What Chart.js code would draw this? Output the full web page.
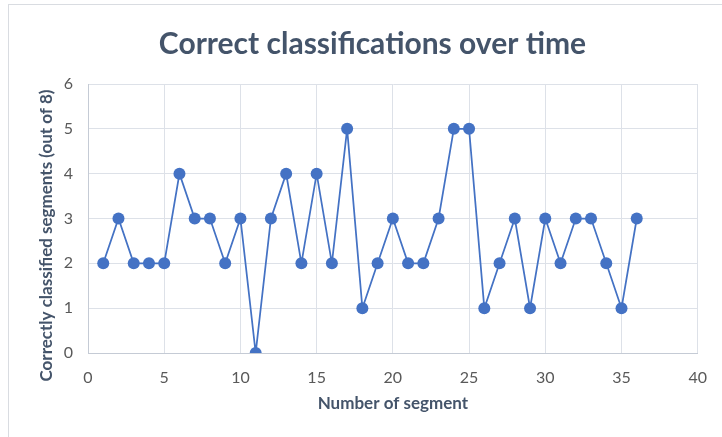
<!DOCTYPE html>
<html>
<head>
<meta charset="utf-8">
<script src="https://cdn.jsdelivr.net/npm/chart.js@4/dist/chart.umd.min.js"></script>
<style>
  html, body { margin: 0; padding: 0; background: #ffffff; }
  #wrap { position: relative; width: 722px; height: 437px; overflow: hidden; }
  #frame { position: absolute; left: 8px; top: 4px; width: 720px; height: 440px;
           border: 1px solid #D9DCE1; box-sizing: border-box; }
  #c { position: absolute; left: 0; top: 0; }
</style>
</head>
<body>
<div id="wrap">
  <div id="frame"></div>
  <canvas id="c" width="722" height="437"></canvas>
</div>
<script>
// Segment index and how many of its 8 parts were classified correctly
const segments = [1, 2, 3, 4, 5, 6, 7, 8, 9, 10, 11, 12, 13, 14, 15, 16, 17, 18,
                  19, 20, 21, 22, 23, 24, 25, 26, 27, 28, 29, 30, 31, 32, 33, 34, 35, 36];
const correct  = [2, 3, 2, 2, 2, 4, 3, 3, 2, 3, 0, 3, 4, 2, 4, 2, 5, 1,
                  2, 3, 2, 2, 3, 5, 5, 1, 2, 3, 1, 3, 2, 3, 3, 2, 1, 3];

const xTicks = [0, 5, 10, 15, 20, 25, 30, 35, 40];
const yTicks = [0, 1, 2, 3, 4, 5, 6];

const titleText = 'Correct classifications over time';
const xTitle = 'Number of segment';
const yTitle = 'Correctly classified segments (out of 8)';

const points = segments.map((s, i) => ({ x: s, y: correct[i] }));

const gridColor = '#DDE1E8';
const axisColor = '#C5CBD5';
const tickColor = '#595959';
const titleColor = '#44546A';
const seriesColor = '#4472C4';
const fontFamily = 'Lato, "Open Sans", sans-serif';

// Vertical axis title, set a little below the middle of the value axis
const yTitlePlugin = {
  id: 'yTitle',
  afterDraw(chart) {
    const { ctx, chartArea } = chart;
    ctx.save();
    ctx.translate(chartArea.left - 41, (chartArea.top + chartArea.bottom) / 2 + 17);
    ctx.rotate(-Math.PI / 2);
    ctx.fillStyle = titleColor;
    ctx.font = 'bold 17px ' + fontFamily;
    ctx.textAlign = 'center';
    ctx.textBaseline = 'middle';
    ctx.fillText(yTitle, 0, 0);
    ctx.restore();
  }
};

new Chart(document.getElementById('c'), {
  type: 'scatter',
  data: {
    datasets: [{
      data: points,
      showLine: true,
      borderColor: seriesColor,
      borderWidth: 1.75,
      pointRadius: 6,
      pointHoverRadius: 6,
      pointBackgroundColor: seriesColor,
      pointBorderColor: seriesColor,
      pointBorderWidth: 0,
      tension: 0
    }]
  },
  plugins: [yTitlePlugin],
  options: {
    responsive: false,
    devicePixelRatio: 1,
    animation: false,
    layout: { padding: { left: 43, right: 20, top: 0, bottom: 0 } },
    plugins: {
      legend: { display: false },
      tooltip: { enabled: false },
      title: {
        display: true,
        text: titleText,
        color: titleColor,
        font: { family: fontFamily, size: 30, weight: 'bold', lineHeight: 1.2 },
        padding: { top: 26, bottom: 22 }
      }
    },
    scales: {
      x: {
        type: 'linear',
        min: 0,
        max: 40,
        afterBuildTicks: (s) => { s.ticks = xTicks.map(v => ({ value: v })); },
        afterFit: (s) => { s.height = 84; },
        grid: { color: gridColor, lineWidth: 1, drawTicks: false },
        border: { color: axisColor, width: 1 },
        ticks: {
          color: tickColor,
          padding: 15,
          font: { family: fontFamily, size: 16 },
          maxRotation: 0
        },
        title: {
          display: true,
          text: xTitle,
          color: titleColor,
          font: { family: fontFamily, size: 17, weight: 'bold', lineHeight: 1.2 },
          padding: { top: 0, bottom: 23 }
        }
      },
      y: {
        type: 'linear',
        min: 0,
        max: 6,
        afterBuildTicks: (s) => { s.ticks = yTicks.map(v => ({ value: v })); },
        afterFit: (s) => { s.width = 45; },
        grid: { color: gridColor, lineWidth: 1, drawTicks: false },
        border: { color: axisColor, width: 1 },
        ticks: {
          color: tickColor,
          padding: 15,
          font: { family: fontFamily, size: 16 }
        }
      }
    }
  }
});
</script>
</body>
</html>
